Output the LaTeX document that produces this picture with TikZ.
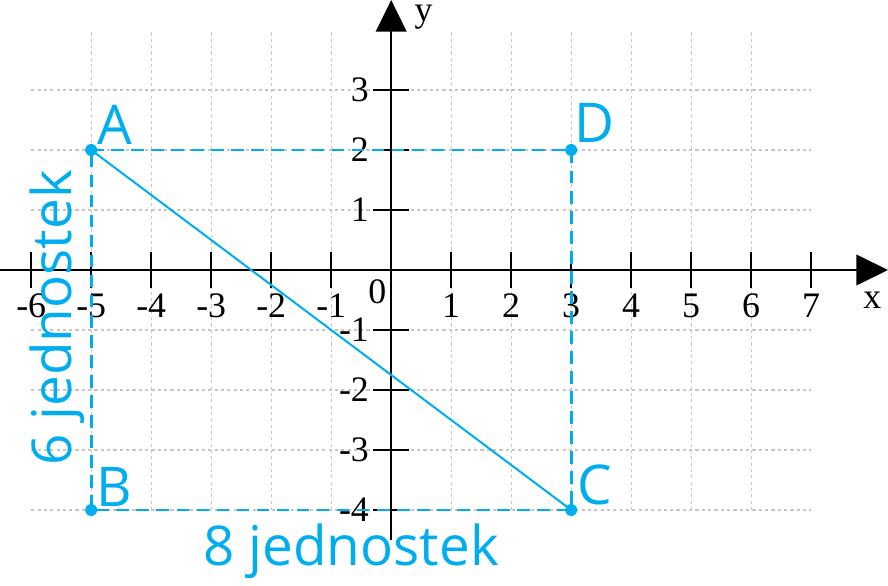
\documentclass[tikz,border=0pt]{standalone}
\usepackage{fontspec}
\setmainfont{Liberation Serif}
\newfontfamily\handfont{Open Sans}
\usetikzlibrary{arrows.meta}
\definecolor{sky}{HTML}{00AEEF}
\tikzset{
  gridline/.style={gray!45, line width=0.5pt, dash pattern=on 1.5pt off 1.5pt},
  axisline/.style={line width=0.95pt, -{Triangle[length=15pt,width=14.5pt]}},
  tickline/.style={line width=0.95pt},
  side/.style={sky, line width=1.3pt, dash pattern=on 6pt off 3.5pt},
  diag/.style={sky, line width=0.95pt},
  hand/.style={sky, font=\handfont\fontsize{26}{30}\selectfont},
  num/.style={font=\fontsize{17}{20}\selectfont, inner sep=1pt}
}
\begin{document}
\begin{tikzpicture}
\useasboundingbox (-6.52,-5.25) rectangle (8.28,4.5);

% grid
\foreach \x in {-5,...,6} \draw[gridline] (\x,-4) -- (\x,4);
\foreach \y in {-4,...,3} \draw[gridline] (-6,\y) -- (7,\y);

% axes
\draw[axisline] (-6.52,0) -- (8.28,0);
\draw[axisline] (0,-4.5) -- (0,4.5);
\node[num] (xlab) at (8.02,-0.5) {x};
\node[num] (ylab) at (0.54,4.22) {y};
\node[num] (orig) at (-0.23,-0.36) {0};

\foreach \x in {-6,-5,-4,-3,-2,-1,1,2,3,4,5,6,7} {
  \draw[tickline] (\x,-0.3) -- (\x,0.3);
  \node[num, anchor=north] (tx\x) at (\x,-0.36) {\x};
}
\foreach \y in {-4,-3,-2,-1,1,2,3} {
  \draw[tickline] (-0.3,\y) -- (0.3,\y);
  \node[num, anchor=east] (ty\y) at (-0.33,\y) {\y};
}

% rectangle ABCD
\coordinate (A) at (-5,2);
\coordinate (B) at (-5,-4);
\coordinate (C) at (3,-4);
\coordinate (D) at (3,2);
\draw[side] (A) -- (D) -- (C) -- (B) -- (A);
\draw[diag] (A) -- (C);
\foreach \p in {A,B,C,D} \fill[sky] (\p) circle (0.1);

\node[hand] (lA) at (-4.6,2.42) {A};
\node[hand] (lB) at (-4.62,-3.62) {B};
\node[hand] (lC) at (3.4,-3.58) {C};
\node[hand] (lD) at (3.38,2.45) {D};
\node[hand, anchor=base] (wide) at (-0.67,-4.92) {8 jednostek};
\node[hand, anchor=base, rotate=90] (tall) at (-5.32,-0.8) {6 jednostek};
\end{tikzpicture}
\end{document}
